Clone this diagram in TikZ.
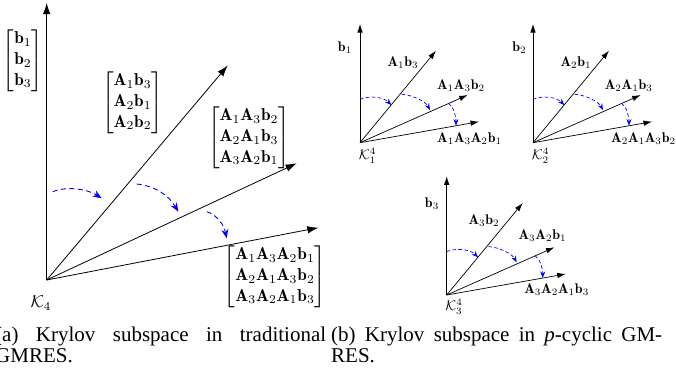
\documentclass[tikz,border=0pt]{standalone}
\usepackage{amsmath}
\usepackage{fontspec}
\newfontfamily\capfont{Liberation Serif}
\usetikzlibrary{arrows.meta}
\begin{document}
\begin{tikzpicture}[x=1pt,y=-1pt,
  vecA/.style={-{Latex[length=11pt,width=7.5pt]}, line width=0.8pt},
  vecB/.style={-{Latex[length=8.5pt,width=5.5pt]}, line width=0.7pt},
  rotA/.style={-{Stealth[length=9pt,width=7pt]}, blue, line width=0.9pt, dash pattern=on 5pt off 3.5pt},
  rotB/.style={-{Stealth[length=6.5pt,width=5pt]}, blue, line width=0.7pt, dash pattern=on 3.5pt off 2.5pt},
  labA/.style={inner sep=0pt, scale=1.72},
  labB/.style={inner sep=0pt, scale=1.4},
  captxt/.style={inner sep=0pt, anchor=base west, text width=331pt, align=justify,
              font=\capfont\fontsize{21}{21}\selectfont}
]
\useasboundingbox (0,0) rectangle (676,375);

% ---------- panel (a) ----------
\coordinate (aO) at (46.7,280);
\coordinate (aV) at (46.7,3);
\coordinate (a1) at (227.7,65.5);
\coordinate (a2) at (296.7,163.3);
\coordinate (a3) at (318.3,227.7);
\draw[vecA] (aO) -- (aV);
\draw[vecA] (aO) -- (a1);
\draw[vecA] (aO) -- (a2);
\draw[vecA] (aO) -- (a3);
\coordinate (as1) at (52.7,191.7);  \coordinate (ae1) at (101.7,198.3);
\coordinate (as2) at (136.7,184);   \coordinate (ae2) at (178.3,211.7);
\coordinate (as3) at (206.7,211.7); \coordinate (ae3) at (226.7,238.3);
\draw[rotA] (as1) .. controls +(15,-6) and +(-14,-9) .. (ae1);
\draw[rotA] (as2) .. controls +(18,2) and +(-10,-17) .. (ae2);
\draw[rotA] (as3) .. controls +(10,3) and +(-3,-14) .. (ae3);
\node[labA] (m0) at (23,60.5) {$\begin{bmatrix}\mathbf{b}_1\\\mathbf{b}_2\\\mathbf{b}_3\end{bmatrix}$};
\node[labA] (m1) at (132.5,102.5) {$\begin{bmatrix}\mathbf{A}_1\mathbf{b}_3\\\mathbf{A}_2\mathbf{b}_1\\\mathbf{A}_2\mathbf{b}_2\end{bmatrix}$};
\node[labA] (m2) at (249,137.5) {$\begin{bmatrix}\mathbf{A}_1\mathbf{A}_3\mathbf{b}_2\\\mathbf{A}_2\mathbf{A}_1\mathbf{b}_3\\\mathbf{A}_3\mathbf{A}_2\mathbf{b}_1\end{bmatrix}$};
\node[labA] (m3) at (275,276.5) {$\begin{bmatrix}\mathbf{A}_1\mathbf{A}_3\mathbf{A}_2\mathbf{b}_1\\\mathbf{A}_2\mathbf{A}_1\mathbf{A}_3\mathbf{b}_2\\\mathbf{A}_3\mathbf{A}_2\mathbf{A}_1\mathbf{b}_3\end{bmatrix}$};
\node[labA] (k4) at (41,303) {$\mathcal{K}_4$};

% ---------- panel (b), block 1 ----------
\coordinate (pO) at (360,142.7);
\coordinate (pV) at (360,24);
\coordinate (p1) at (436,50.7);
\coordinate (p2) at (467.7,95);
\coordinate (p3) at (479,121.7);
\draw[vecB] (pO) -- (pV);
\draw[vecB] (pO) -- (p1);
\draw[vecB] (pO) -- (p2);
\draw[vecB] (pO) -- (p3);
\coordinate (ps1) at (360,99.3);    \coordinate (pe1) at (391.3,105);
\coordinate (ps2) at (401.7,94.3);  \coordinate (pe2) at (430,110);
\coordinate (ps3) at (448.3,103.3); \coordinate (pe3) at (456,125.6);
\draw[rotB] (ps1) .. controls +(10,-4) and +(-8,-8) .. (pe1);
\draw[rotB] (ps2) .. controls +(10,0.5) and +(-5,-9) .. (pe2);
\draw[rotB] (ps3) .. controls +(5,3) and +(0,-10) .. (pe3);
\node[labB] (pl0) at (345,48) {$\mathbf{b}_1$};
\node[labB] (pl1) at (403,62.5) {$\mathbf{A}_1\mathbf{b}_3$};
\node[labB] (pl2) at (461,85.5) {$\mathbf{A}_1\mathbf{A}_3\mathbf{b}_2$};
\node[labB] (pl3) at (469.5,139) {$\mathbf{A}_1\mathbf{A}_3\mathbf{A}_2\mathbf{b}_1$};
\node[labB] (pk) at (367.5,156) {$\mathcal{K}_1^4$};

% ---------- panel (b), block 2 ----------
\coordinate (qO) at (533,142.7);
\coordinate (qV) at (533,24);
\coordinate (q1) at (609,50.7);
\coordinate (q2) at (640.7,95);
\coordinate (q3) at (652,121.7);
\draw[vecB] (qO) -- (qV);
\draw[vecB] (qO) -- (q1);
\draw[vecB] (qO) -- (q2);
\draw[vecB] (qO) -- (q3);
\coordinate (qs1) at (533,99.3);    \coordinate (qe1) at (564.3,105);
\coordinate (qs2) at (574.7,94.3);  \coordinate (qe2) at (603,110);
\coordinate (qs3) at (621.3,103.3); \coordinate (qe3) at (629,125.6);
\draw[rotB] (qs1) .. controls +(10,-4) and +(-8,-8) .. (qe1);
\draw[rotB] (qs2) .. controls +(10,0.5) and +(-5,-9) .. (qe2);
\draw[rotB] (qs3) .. controls +(5,3) and +(0,-10) .. (qe3);
\node[labB] (ql0) at (519.3,48) {$\mathbf{b}_2$};
\node[labB] (ql1) at (576,62.5) {$\mathbf{A}_2\mathbf{b}_1$};
\node[labB] (ql2) at (628.7,85.5) {$\mathbf{A}_2\mathbf{A}_1\mathbf{b}_3$};
\node[labB] (ql3) at (643.5,139) {$\mathbf{A}_2\mathbf{A}_1\mathbf{A}_3\mathbf{b}_2$};
\node[labB] (qk) at (540.5,156) {$\mathcal{K}_2^4$};

% ---------- panel (b), block 3 ----------
\coordinate (rO) at (446.7,295);
\coordinate (rV) at (446.7,176.3);
\coordinate (r1) at (522.7,203);
\coordinate (r2) at (554.4,247.3);
\coordinate (r3) at (565.7,274);
\draw[vecB] (rO) -- (rV);
\draw[vecB] (rO) -- (r1);
\draw[vecB] (rO) -- (r2);
\draw[vecB] (rO) -- (r3);
\coordinate (rs1) at (446.7,251.6); \coordinate (re1) at (478,257.3);
\coordinate (rs2) at (488.4,246.6); \coordinate (re2) at (516.7,262.3);
\coordinate (rs3) at (535,255.6);   \coordinate (re3) at (542.7,277.9);
\draw[rotB] (rs1) .. controls +(10,-4) and +(-8,-8) .. (re1);
\draw[rotB] (rs2) .. controls +(10,0.5) and +(-5,-9) .. (re2);
\draw[rotB] (rs3) .. controls +(5,3) and +(0,-10) .. (re3);
\node[labB] (rl0) at (432,204) {$\mathbf{b}_3$};
\node[labB] (rl1) at (484,221) {$\mathbf{A}_3\mathbf{b}_2$};
\node[labB] (rl2) at (542.5,236) {$\mathbf{A}_3\mathbf{A}_2\mathbf{b}_1$};
\node[labB] (rl3) at (556.7,289.5) {$\mathbf{A}_3\mathbf{A}_2\mathbf{A}_1\mathbf{b}_3$};
\node[labB] (rk) at (454,307) {$\mathcal{K}_3^4$};

% ---------- captions ----------
\node[captxt] (capa) at (-5,341) {(a) Krylov subspace in traditional\linebreak GMRES.};
\node[captxt] (capb) at (331,341) {(b) Krylov subspace in \textit{p}-cyclic GM-\linebreak RES.};
\end{tikzpicture}
\end{document}
